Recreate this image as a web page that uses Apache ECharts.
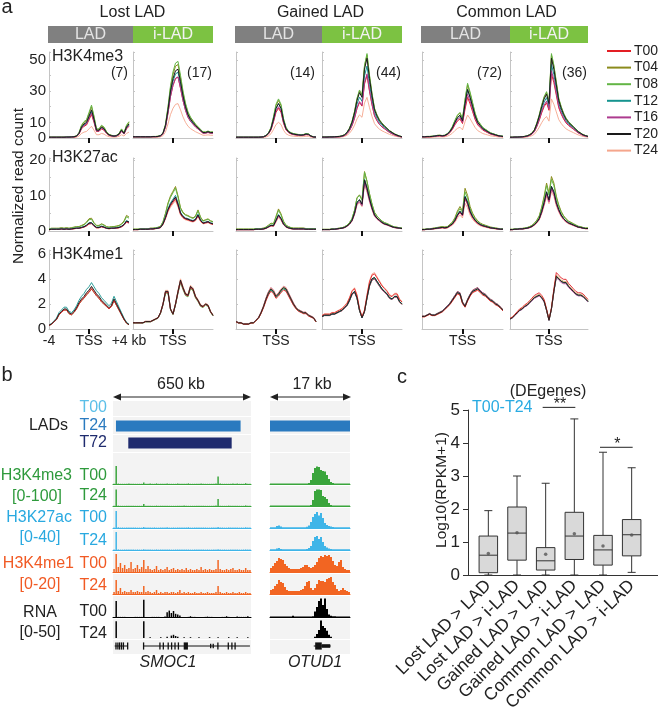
<!DOCTYPE html>
<html>
<head>
<meta charset="utf-8">
<title>LAD chromatin profiles</title>
<script src="https://cdn.jsdelivr.net/npm/echarts@6.0.0/dist/echarts.min.js"></script>
<style>
  html, body { margin: 0; padding: 0; background: #fff; }
  #main { width: 661px; height: 712px; }
</style>
</head>
<body>
<div id="main"></div>
<script>
const FONT = "'Liberation Sans', Arial, Helvetica, sans-serif";

// ===== panel a : read count profiles around the TSS =====
const timepoints = ['T00', 'T04', 'T08', 'T12', 'T16', 'T20', 'T24'];
const tpColors = ['#e31e24', '#8b8b1c', '#63b545', '#16948f', '#ad3b8f', '#1a1a1a', '#f5a68c'];
const groupNames = ['Lost LAD', 'Gained LAD', 'Common LAD'];
const markNames = ['H3K4me3', 'H3K27ac', 'H3K4me1'];
const geneCounts = ['(7)', '(17)', '(14)', '(44)', '(72)', '(36)'];
const kbBins = [-4, -3.75, -3.5, -3.25, -3, -2.75, -2.5, -2.25, -2, -1.75, -1.5, -1.25, -1, -0.75, -0.5, -0.25,
  0, 0.25, 0.5, 0.75, 1, 1.25, 1.5, 1.75, 2, 2.25, 2.5, 2.75, 3, 3.25, 3.5, 3.75, 4];
const yTickLabels = [[0, 10, 30, 50], [0, 10, 20], [0, 2, 4, 6]];

// T20 profile per column (Lost LAD, Lost i-LAD, Gained LAD, Gained i-LAD, Common LAD, Common i-LAD)
const k4me3Profiles = [
  [0.5,0.5,0.5,0.5,0.5,0.5,0.5,0.6,0.6,0.7,0.8,1.2,3,7,9,10,14,18,12,5,5,7,6,3.5,2,1.5,1.2,1.5,2.5,5,3,7,9],
  [0.8,0.8,0.8,0.8,0.8,0.8,0.8,0.8,0.9,0.9,1,1.5,3,8,18,30,38,43,44,36,27,20,15,12,10,8,6.5,5,3.5,3.5,4,3.5,3.5],
  [0.5,0.5,0.5,0.5,0.5,0.5,0.5,0.5,0.5,0.5,0.6,0.8,1.5,3,6,12,19,22,19,11,6,4,3,2.5,2.2,2,1.8,2,2.5,2.3,1.2,0.7,0.6],
  [0.6,0.6,0.6,0.7,0.7,0.8,0.9,1,1.3,2,3.5,6,10,16,24,29,26,44,51,38,27,18,14,11,9,7.5,6,4.5,3.5,2.5,1.8,1.2,0.8],
  [0.8,0.8,0.9,0.9,1,1.2,1.5,1.6,1.4,1.6,2.5,4,6.5,10,13,14.5,11,22,31,26,20,14,10,8,6,5,4,3,2.5,2,1.5,1.2,1],
  [0.5,0.5,0.6,0.6,0.7,0.8,1,1.3,2,3,5,9,14,20,25,28,22,51,44,34,24,19,15,12,10,8.5,7,5.5,4,3,2,1.5,1]
];
// peak height of T00..T24 in each column
const k4me3Peaks = [
  [15, 20, 21, 17, 16, 18, 7.5],
  [39, 47, 49, 42, 39, 44, 22],
  [19, 24, 25, 22, 20, 22, 10],
  [40, 53, 54, 46, 41, 51, 26],
  [26, 34, 35, 31, 28, 31, 14.7],
  [41, 53, 54, 47, 43, 51, 25]
];
const k27acProfiles = [
  [0.4,0.5,0.5,0.5,0.5,0.6,0.5,0.6,0.5,0.6,0.7,0.8,0.8,1,1.2,1.6,2.2,2.3,1.5,1,1,1.3,1.1,0.8,0.7,0.8,0.8,0.9,1,1.3,1.8,2.8,2.5],
  [0.4,0.4,0.4,0.5,0.5,0.5,0.5,0.6,0.6,0.7,0.8,1,2,3.8,6,7.5,8.5,9.5,7.5,5,4,3.5,3.3,3,2.8,3.2,4.5,3,2.2,2.4,2.6,2.2,2],
  [0.4,0.4,0.4,0.4,0.4,0.4,0.4,0.4,0.5,0.5,0.5,0.6,0.8,1.2,1.6,1.5,3,4.5,3.5,2,1.2,0.9,0.7,0.6,0.6,0.6,0.6,0.6,0.5,0.5,0.5,0.5,0.5],
  [0.4,0.4,0.4,0.4,0.5,0.5,0.6,0.7,0.8,1,1.4,2,3,5,8,8.7,7.5,14.3,12,9,6.5,4.5,3.6,3,2.4,2,1.8,1.5,1.2,1,0.9,0.8,0.7],
  [0.4,0.4,0.5,0.5,0.6,0.7,0.8,0.9,1,0.9,1,1.5,2,3,4.5,5.5,4.5,9.6,8,5.5,4,3,2.3,1.8,1.5,1.3,1.1,0.9,0.8,0.7,0.6,0.5,0.5],
  [0.4,0.4,0.5,0.5,0.6,0.6,0.7,0.8,1,1.3,1.8,2.5,3.5,5.5,8,11,8.7,12.5,11,8,6,4.5,3.5,2.8,2.3,2,1.7,1.4,1.1,1,0.8,0.7,0.7]
];
const k27acPeaks = [
  [2.1, 3.6, 3.3, 2.4, 2.2, 2.3, 2.0],
  [9, 12.5, 12, 10, 9.5, 9.5, 8.5],
  [4.3, 6.2, 5.8, 4.6, 4.2, 4.5, 3.8],
  [14.5, 16.7, 16.5, 14.5, 13.5, 14.3, 13],
  [9, 12, 11, 9.8, 9.2, 9.6, 7.8],
  [12, 15.3, 14.5, 12.5, 11.8, 12.5, 11]
];
const k4me1Profiles = [
  [0.3,0.4,0.6,0.8,1.2,1.4,1.6,1.6,1.3,1.2,1.4,1.7,2.1,2.4,2.6,2.9,3.1,3.4,3.1,2.8,2.6,2.3,2.1,1.9,1.7,1.9,2.4,2,1.6,1.2,0.8,0.5,0.35],
  [0.5,0.5,0.5,0.5,0.5,0.6,0.6,0.6,0.7,0.8,0.9,1.3,2,3,3,1.6,1.2,2,3,3.9,3.3,2.8,2.7,3.4,3.2,2.6,2.3,1.9,1.8,2,1.9,1.4,1.1],
  [0.6,0.5,0.5,0.4,0.4,0.4,0.5,0.5,0.7,0.9,1.3,1.8,2.4,2.9,3.2,3,2.6,2.8,3.1,3.3,3.2,2.8,2.4,2,1.7,1.5,1.4,1.3,1.3,1.1,1,0.9,0.6],
  [1,1.1,1.1,1.1,1.2,1.2,1.3,1.4,1.5,1.7,1.9,2.3,2.8,3,2.5,1.5,0.9,1.4,2.5,3.5,4,4.1,3.8,3.5,3.2,3,2.8,2.5,2.4,2.6,2.6,2.2,2],
  [1,1,1.1,1.2,1.1,1.1,1.2,1.3,1.4,1.6,1.8,2,2.3,2.6,2.9,2.8,2.1,1.8,2.3,2.7,3,3.1,3.2,3,2.8,2.7,2.5,2.3,2.2,2,1.9,1.7,1.5],
  [0.8,0.9,1.1,1.3,1.5,1.6,1.8,1.9,2.1,2.3,2.5,2.6,2.7,2.5,2.2,1.5,0.7,1.6,3,4.2,4,3.8,3.7,3.7,3.4,3.2,3,2.8,2.7,2.7,2.6,2.4,2.2]
];
const k4me1Peaks = [
  [3.2, 3.3, 3.2, 3.7, 3.3, 3.4, 3.3],
  [3.8, 3.9, 3.7, 3.8, 3.9, 3.9, 4.0],
  [3.1, 3.2, 3.3, 3.2, 3.4, 3.3, 3.4],
  [4.4, 4.0, 4.1, 4.1, 4.0, 4.1, 4.5],
  [3.1, 3.3, 3.2, 3.2, 3.3, 3.2, 3.1],
  [4.5, 4.2, 4.3, 4.2, 4.1, 4.2, 4.3]
];

// ===== panel b : browser tracks (left 650 kb in 10 kb bins, right 17 kb in 0.425 kb bins) =====
const k4me3T00Left = [1,90,2,1,1,1,1,2,1,1, 1,1,1,1,8,1,1,2,1,1, 3,1,1,1,1,2,1,1,1,1, 2,1,1,1,1,3,1,1,1,1, 1,2,1,1,1,1,1,1,2,37, 2,1,1,1,1,1,2,1,3,1, 1,1,4,1,1];
const k4me3T24Left = [1,82,2,1,1,1,1,1,1,1, 1,1,1,1,10,1,1,1,1,1, 2,1,1,1,1,1,1,1,1,1, 1,1,1,2,1,1,1,1,1,1, 1,1,1,1,1,1,1,1,2,35, 1,1,1,1,2,1,1,1,1,1, 1,1,3,1,1];
const k27acT00Left = [0.8,34,1.5,0.8,1,0.8,0.8,1.2,0.8,0.8, 1,0.8,0.8,0.8,2,0.8,1,0.8,0.8,1.2, 0.8,0.8,1,0.8,0.8,1.5,0.8,0.8,1,0.8, 0.8,1.2,0.8,0.8,1,1.5,0.8,0.8,1,0.8, 1.2,0.8,0.8,1,0.8,0.8,1,0.8,0.8,2, 0.8,1,0.8,0.8,1.2,0.8,0.8,1,0.8,0.8, 1,0.8,1.5,0.8,0.8];
const k27acT24Left = [0.8,36,1.2,0.8,0.8,1,0.8,0.8,1,0.8, 0.8,1,0.8,0.8,1.5,0.8,0.8,1,0.8,0.8, 1.2,0.8,0.8,1,0.8,0.8,1,0.8,0.8,1, 0.8,0.8,1.2,0.8,0.8,1,0.8,0.8,1,0.8, 0.8,1,0.8,0.8,1,0.8,0.8,1,0.8,1.5, 0.8,0.8,1,0.8,0.8,1,0.8,0.8,1,0.8, 0.8,1,1.2,0.8,0.8];
const k4me1T00Left = [3,18,5,9,4,7,3,4,10,3, 4,7,3,5,12,3,6,3,2,3, 6,2,3,2,3,5,2,3,4,2, 3,2,3,2,4,2,3,2,2,3, 2,5,2,3,2,3,2,2,3,12, 3,2,2,3,2,3,4,2,2,3, 2,2,4,2,2];
const k4me1T24Left = [2,14,3,6,2,3,2,2,4,2, 2,3,2,2,8,2,3,2,1,2, 4,1,2,1,2,2,1,2,2,1, 2,4,1,2,1,2,1,1,2,1, 1,2,1,1,2,1,1,1,2,8, 2,1,1,2,1,1,2,1,1,2, 1,1,2,1,1];
const rnaT00Left = [0.3,40,0.3,0.3,0.3,0.3,0.3,0.3,0.3,0.3, 0.3,0.3,0.3,0.3,43,0.3,0.3,0.3,0.3,0.3, 0.3,0.3,0.3,0.3,1,12,16,10,15,8, 6,4,0.3,0.3,0.3,0.3,2,0.3,0.3,0.3, 0.3,0.3,0.3,0.3,1,0.3,0.3,0.3,0.3,0.3, 0.3,0.3,0.3,2,0.3,0.3,0.3,0.3,1,0.3, 0.3,0.3,0.3,2,0.3];
const rnaT24Left = [0,42,0,0,0,0,0,0,0,0, 0,0,0,0,42,0,0,2,0,0, 0,0,2,0,0,3,0,6,8,5, 3,0,0,2,0,0,2,0,0,0, 2,0,0,0,0,2,0,0,0,2, 0,0,0,0,2,0,0,0,2,0, 0,0,0,2,0];
const k4me3T00Right = [2,2,2,2,2,2,2,2,2,2, 2,2,2,2,2,2,2,2,2,5, 20,55,80,88,85,70,65,62,45,25, 10,5,2,2,2,2,2,2,2,2];
const k4me3T24Right = [2,2,2,2,2,2,2,2,2,2, 2,2,2,2,2,2,2,2,2,2, 5,30,75,83,82,80,50,45,35,15, 5,2,2,2,2,2,2,2,2,2];
const k27acT00Right = [1.5,1.5,1.5,4,5,3,1.5,1.5,1.5,1.5, 1.5,1.5,1.5,1.5,1.5,1.5,1.5,1.5,2.5,5, 12,22,28,32,25,30,20,10,6,4, 3,2,1.5,1.5,1.5,1.5,1.5,1.5,1.5,1.5];
const k27acT24Right = [1.5,1.5,1.5,3,4,2,1.5,1.5,1.5,1.5, 1.5,1.5,1.5,1.5,1.5,1.5,1.5,1.5,2,4, 8,18,26,28,22,26,16,8,5,3, 2,1.5,1.5,1.5,1.5,1.5,1.5,1.5,1.5,1.5];
const k4me1T00Right = [4,6,9,11,14,13,12,8,6,4, 3,3,3,3,3,4,5,7,7,5, 4,5,7,10,14,16,15,17,16,17, 15,11,7,6,10,12,5,3,2,2];
const k4me1T24Right = [4,5,8,10,14,12,11,7,4,3, 3,3,3,3,3,4,5,8,12,13, 6,4,6,10,14,13,13,12,15,16, 17,12,9,5,3,4,6,4,3,2];
const rnaT00Right = [1,1,1,1,1,1,1,1,1,1, 1,3,1,1,1,1,1,1,1,1, 1,2,14,25,40,46,30,46,20,6, 3,2,2,1,1,1,1,1,1,1];
const rnaT24Right = [0,0,0,0,0,0,0,0,0,0, 0,0,0,0,0,0,0,0,0,0, 0,0,3,10,20,44,30,25,18,8, 3,0,0,0,0,0,0,0,0,0];

// LAD intervals (kb)
const ladT00Left = [], ladT24Left = [[14, 601]], ladT72Left = [[72, 559]];
const ladT00Right = [], ladT24Right = [[0, 17]], ladT72Right = [];
// gene models (kb): intron lines and exons [start, end, relative height]
const smocLines = [[8, 70], [143, 645]];
const smocExons = [[11,15,1],[20,24,1],[28,32,1],[37,41,1],[46,50,1],[66,71,1],[141,146,1],[218,223,1],[234,239,1],
  [257,262,1],[273,278,1],[289,294,1],[305,310,1],[333,353,1],[457,463,0.6],[469,475,0.6],[491,496,1],[540,545,1],[557,561,1],[572,577,1]];
const otudLines = [[9.3, 12.9]];
const otudExons = [[9.6, 11.0, 1], [11.0, 12.8, 0.5]];

// ===== panel c : expression box plots =====
const boxCategories = ['Lost LAD > LAD', 'Lost LAD > i-LAD', 'Gained LAD > LAD', 'Gained LAD > i-LAD', 'Common LAD > LAD', 'Common LAD > i-LAD'];
const boxMin = [0, 0, 0, 0, 0, 0.08];
const boxQ1 = [0.07, 0.45, 0.15, 0.47, 0.3, 0.58];
const boxMedian = [0.6, 1.27, 0.43, 1.18, 0.76, 1.22];
const boxQ3 = [1.18, 2.06, 0.83, 1.9, 1.2, 1.68];
const boxMax = [1.95, 3.0, 2.78, 4.73, 3.72, 3.25];
const boxMean = [0.65, 1.28, 0.63, 1.25, 0.88, 1.21];
const sigFrom = [2, 4], sigTo = [3, 5], sigY = [5.08, 3.87], sigText = ['**', '*'];

// ---------- helpers ----------
const grids = [], xAxes = [], yAxes = [], series = [], graphics = [];
function addGrid(left, top, width, height, xa, ya) {
  const i = grids.length;
  grids.push({ left, top, width, height, containLabel: false, outerBoundsMode: 'none' });
  xAxes.push(Object.assign({ gridIndex: i }, xa));
  yAxes.push(Object.assign({ gridIndex: i }, ya));
  return i;
}
function txt(text, x, y, o) {
  o = o || {};
  graphics.push({
    type: 'text', x, y, rotation: o.rot || 0, z: 100, silent: true,
    style: { text, fontSize: o.size || 14, fontFamily: FONT, fontStyle: o.italic ? 'italic' : 'normal',
      fill: o.color || '#222', align: o.align || 'center', verticalAlign: 'middle' }
  });
}
function box(x, y, w, h, fill) {
  graphics.push({ type: 'rect', z: -5, silent: true, shape: { x, y, width: w, height: h }, style: { fill } });
}
function seg(x1, y1, x2, y2, stroke, w) {
  graphics.push({ type: 'line', z: 50, silent: true, shape: { x1, y1, x2, y2 }, style: { stroke, lineWidth: w || 1 } });
}
function tri(points, fill) {
  graphics.push({ type: 'polygon', z: 50, silent: true, shape: { points }, style: { fill } });
}

// ---------- panel a ----------
const colLeft = [49, 133, 236, 322, 422, 510];
const colWidth = [80, 80, 80, 80, 81, 78];
const rowTop = [52, 158, 250], rowHeight = [86, 73, 79], rowMax = [55, 20.5, 6.3], rowStep = [10, 5, 2];
const rowsA = [
  { profiles: k4me3Profiles, peaks: k4me3Peaks, order: [6, 0, 1, 2, 3, 4, 5], lw: 1 },
  { profiles: k27acProfiles, peaks: k27acPeaks, order: [6, 0, 1, 2, 3, 4, 5], lw: 1 },
  { profiles: k4me1Profiles, peaks: k4me1Peaks, order: [1, 2, 4, 3, 6, 0, 5], lw: 0.9 }
];

rowsA.forEach((row, r) => {
  row.profiles.forEach((prof, c) => {
    const gi = addGrid(colLeft[c], rowTop[r], colWidth[c], rowHeight[r], {
      type: 'value', min: -4, max: 4,
      axisLine: { show: true, onZero: false, lineStyle: { color: '#c4c4c4', width: 1 } },
      axisTick: { show: true, customValues: [0], length: 5, lineStyle: { color: '#111', width: 2 } },
      axisLabel: { show: r === 2, customValues: c === 0 ? [-4, 0, 4] : [0], fontSize: 14, color: '#222', margin: 5,
        formatter: v => (v === 0 ? 'TSS' : (v < 0 ? '-4' : '+4 kb')) },
      splitLine: { show: false }
    }, {
      type: 'value', min: 0, max: rowMax[r], interval: rowStep[r],
      axisLine: { show: true, onZero: false, lineStyle: { color: '#c4c4c4', width: 1 } },
      axisTick: { show: true, inside: true, length: 2, lineStyle: { color: '#c4c4c4' } },
      axisLabel: { show: c === 0, fontSize: 15, color: '#222', margin: 3,
        formatter: v => (yTickLabels[r].indexOf(v) >= 0 ? String(v) : '') },
      splitLine: { show: false }
    });
    row.order.forEach(s => {
      const scale = row.peaks[c][s] / row.peaks[c][5];
      series.push({
        type: 'line', name: timepoints[s], xAxisIndex: gi, yAxisIndex: gi,
        data: prof.map((v, i) => [kbBins[i], +(v * scale).toFixed(2)]),
        symbol: 'none', showSymbol: false, silent: true, animation: false,
        lineStyle: { color: tpColors[s], width: s === 6 ? 0.9 : row.lw }, itemStyle: { color: tpColors[s] }
      });
    });
  });
});

txt('a', 7, 7, { size: 20 });
groupNames.forEach((g, k) => {
  const l0 = colLeft[2 * k] - 1, l1 = colLeft[2 * k + 1], r1 = colLeft[2 * k + 1] + colWidth[2 * k + 1];
  box(l0, 26, l1 - l0, 17, '#808080');
  box(l1, 26, r1 - l1, 17, '#7cc242');
  txt('LAD', (l0 + l1) / 2, 35, { size: 16, color: '#e4e4e4' });
  txt('i-LAD', (l1 + r1) / 2, 35, { size: 16, color: '#f2f2f2' });
  txt(g, (l0 + r1) / 2 + 2, 13, { size: 16 });
});
geneCounts.forEach((t, c) => txt(t, colLeft[c] + colWidth[c] - 1, 73, { size: 14, align: 'right' }));
[57, 158, 255].forEach((y, r) => txt(markNames[r], 52, y, { size: 16, align: 'left' }));
txt('Normalized read count', 19, 186, { size: 15.5, rot: Math.PI / 2 });

// ---------- panel b ----------
const trackBaseY = [484, 506, 528, 550, 572, 594, 617, 638];
const tracks = [
  { left: k4me3T00Left, right: k4me3T00Right, max: 100, color: '#3aa53c', axis: true },
  { left: k4me3T24Left, right: k4me3T24Right, max: 100, color: '#3aa53c', axis: true },
  { left: k27acT00Left, right: k27acT00Right, max: 40, color: '#3fb5e8', axis: true },
  { left: k27acT24Left, right: k27acT24Right, max: 40, color: '#3fb5e8', axis: true },
  { left: k4me1T00Left, right: k4me1T00Right, max: 20, color: '#f26522', axis: true },
  { left: k4me1T24Left, right: k4me1T24Right, max: 20, color: '#f26522', axis: true },
  { left: rnaT00Left, right: rnaT00Right, max: 50, color: '#000', axis: true },
  { left: rnaT24Left, right: rnaT24Right, max: 50, color: '#000', axis: false }
];
const regions = [{ x: 113, w: 138, kb: 650, bar: '70%' }, { x: 270, w: 80, kb: 17, bar: '100%' }];

regions.forEach(rg => {
  box(rg.x, 401, rg.w, 253, '#f3f3f3');
  [416.5, 434.5, 452.5].concat(trackBaseY.map(y => y + 1.5)).forEach(y => seg(rg.x, y, rg.x + rg.w, y, '#ffffff', 1));
});

tracks.forEach((t, k) => {
  [t.left, t.right].forEach((vals, side) => {
    const rg = regions[side];
    const gi = addGrid(rg.x, trackBaseY[k] - 20, rg.w, 20, {
      type: 'category', data: vals.map((_, i) => String(i)), boundaryGap: true,
      axisLine: { show: t.axis, lineStyle: { color: t.color, width: 1 } },
      axisTick: { show: false }, axisLabel: { show: false }, splitLine: { show: false }
    }, { type: 'value', min: 0, max: t.max, show: false });
    series.push({
      type: 'bar', xAxisIndex: gi, yAxisIndex: gi, data: vals, barWidth: rg.bar,
      itemStyle: { color: t.color }, silent: true, animation: false
    });
  });
});

function intervalItem(params, api) {
  const a = api.coord([api.value(0), 0.85]);
  const b = api.coord([api.value(1), 0.15]);
  return { type: 'rect', shape: { x: a[0], y: a[1], width: b[0] - a[0], height: b[1] - a[1] }, style: { fill: api.visual('color') } };
}
function geneLineItem(params, api) {
  const a = api.coord([api.value(0), 0.5]);
  const b = api.coord([api.value(1), 0.5]);
  return { type: 'line', shape: { x1: a[0], y1: a[1], x2: b[0], y2: b[1] }, style: { stroke: '#111', lineWidth: 1 } };
}
function exonItem(params, api) {
  const h = api.value(2) * 0.3;
  const a = api.coord([api.value(0), 0.5 + h]);
  const b = api.coord([api.value(1), 0.5 - h]);
  return { type: 'rect', shape: { x: a[0], y: a[1], width: Math.max(1.3, b[0] - a[0]), height: b[1] - a[1] }, style: { fill: '#111' } };
}
function plainGrid(rg, top, height) {
  return addGrid(rg.x, top, rg.w, height,
    { type: 'value', min: 0, max: rg.kb, show: false },
    { type: 'value', min: 0, max: 1, show: false });
}
const ladRows = [
  { top: 400, data: [ladT00Left, ladT00Right], color: '#5bbfe8' },
  { top: 418, data: [ladT24Left, ladT24Right], color: '#2a7abf' },
  { top: 435, data: [ladT72Left, ladT72Right], color: '#1f2b6e' }
];
ladRows.forEach(row => {
  regions.forEach((rg, side) => {
    const gi = plainGrid(rg, row.top, 16);
    series.push({ type: 'custom', xAxisIndex: gi, yAxisIndex: gi, data: row.data[side], renderItem: intervalItem,
      itemStyle: { color: row.color }, silent: true, animation: false });
  });
});
[[smocLines, smocExons], [otudLines, otudExons]].forEach((g, side) => {
  const gi = plainGrid(regions[side], 640, 12);
  series.push({ type: 'custom', xAxisIndex: gi, yAxisIndex: gi, data: g[0], renderItem: geneLineItem, silent: true, animation: false, z: 3 });
  series.push({ type: 'custom', xAxisIndex: gi, yAxisIndex: gi, data: g[1], renderItem: exonItem, silent: true, animation: false, z: 4 });
});

function arrow(x1, x2, y) {
  seg(x1 + 3, y, x2 - 3, y, '#222', 1.2);
  tri([[x1, y], [x1 + 8, y - 3.5], [x1 + 8, y + 3.5]], '#222');
  tri([[x2, y], [x2 - 8, y - 3.5], [x2 - 8, y + 3.5]], '#222');
}
arrow(113, 251, 397);
arrow(270, 351, 397);
txt('650 kb', 181, 385, { size: 16 });
txt('17 kb', 312, 385, { size: 16 });
txt('b', 7, 375, { size: 20 });

const cGreen = '#2e9a3c', cBlue = '#29a9e0', cOrange = '#f15a24';
txt('T00', 107, 408, { size: 16, align: 'right', color: '#5bbfe8' });
txt('LADs', 68, 426, { size: 16, align: 'right' });
txt('T24', 107, 426, { size: 16, align: 'right', color: '#2a7abf' });
txt('T72', 107, 443, { size: 16, align: 'right', color: '#1f2b6e' });
txt('H3K4me3', 72, 476, { size: 16, align: 'right', color: cGreen });
txt('T00', 107, 476, { size: 16, align: 'right', color: cGreen });
txt('[0-100]', 37, 497, { size: 16, color: cGreen });
txt('T24', 107, 496, { size: 16, align: 'right', color: cGreen });
txt('H3K27ac', 72, 518, { size: 16, align: 'right', color: cBlue });
txt('T00', 107, 518, { size: 16, align: 'right', color: cBlue });
txt('[0-40]', 40, 538, { size: 16, color: cBlue });
txt('T24', 107, 541, { size: 16, align: 'right', color: cBlue });
txt('H3K4me1', 74, 564, { size: 16, align: 'right', color: cOrange });
txt('T00', 107, 564, { size: 16, align: 'right', color: cOrange });
txt('[0-20]', 40, 585, { size: 16, color: cOrange });
txt('T24', 107, 586, { size: 16, align: 'right', color: cOrange });
txt('RNA', 40, 613, { size: 16 });
txt('T00', 107, 612, { size: 16, align: 'right' });
txt('[0-50]', 40, 633, { size: 16 });
txt('T24', 107, 634, { size: 16, align: 'right' });
txt('SMOC1', 168, 663, { size: 16, italic: true });
txt('OTUD1', 315, 663, { size: 16, italic: true });

// ---------- panel c ----------
const gc = addGrid(474, 410, 172, 165, {
  type: 'category', data: boxCategories, boundaryGap: true,
  axisLine: { show: false }, axisTick: { show: false },
  axisLabel: { rotate: 45, interval: 0, fontSize: 17.5, color: '#222', margin: 8 }
}, {
  type: 'value', min: 0, max: 5, interval: 1, offset: 6,
  axisLine: { show: true, onZero: false, lineStyle: { color: '#333', width: 1 } },
  axisTick: { show: true, length: 5, lineStyle: { color: '#333' } },
  axisLabel: { fontSize: 17, color: '#222', margin: 8 },
  splitLine: { show: false }
});
function boxItem(params, api) {
  const i = api.value(0);
  const x = api.coord([i, 0])[0];
  const y = k => api.coord([i, api.value(k)])[1];
  const yMin = y(1), yQ1 = y(2), yMed = y(3), yQ3 = y(4), yMax = y(5);
  const w = 18.5, cap = 8, st = { stroke: '#333', lineWidth: 1 };
  return { type: 'group', children: [
    { type: 'line', shape: { x1: x, y1: yMax, x2: x, y2: yQ3 }, style: st },
    { type: 'line', shape: { x1: x, y1: yQ1, x2: x, y2: yMin }, style: st },
    { type: 'line', shape: { x1: x - cap / 2, y1: yMax, x2: x + cap / 2, y2: yMax }, style: st },
    { type: 'line', shape: { x1: x - cap / 2, y1: yMin, x2: x + cap / 2, y2: yMin }, style: st },
    { type: 'rect', shape: { x: x - w / 2, y: yQ3, width: w, height: yQ1 - yQ3 }, style: { fill: '#d9d9d9', stroke: '#333', lineWidth: 1 } },
    { type: 'line', shape: { x1: x - w / 2, y1: yMed, x2: x + w / 2, y2: yMed }, style: st }
  ] };
}
series.push({
  type: 'custom', xAxisIndex: gc, yAxisIndex: gc, renderItem: boxItem, silent: true, animation: false,
  encode: { x: 0, y: [1, 2, 3, 4, 5] },
  data: boxCategories.map((_, i) => [i, boxMin[i], boxQ1[i], boxMedian[i], boxQ3[i], boxMax[i]])
});
series.push({
  type: 'scatter', xAxisIndex: gc, yAxisIndex: gc, symbolSize: 3.5, silent: true, animation: false,
  itemStyle: { color: '#555' }, z: 5,
  data: boxMean.map((m, i) => [i, m])
});
function sigItem(params, api) {
  const a = api.coord([api.value(0), api.value(2)]);
  const b = api.coord([api.value(1), api.value(2)]);
  return { type: 'group', children: [
    { type: 'line', shape: { x1: a[0] - 3, y1: a[1], x2: b[0] + 1, y2: b[1] }, style: { stroke: '#222', lineWidth: 1 } },
    { type: 'text', x: (a[0] + b[0]) / 2, y: a[1] - 3, style: { text: sigText[params.dataIndex], fontSize: 16, fontFamily: FONT,
      fill: '#222', align: 'center', verticalAlign: 'middle' } }
  ] };
}
series.push({
  type: 'custom', xAxisIndex: gc, yAxisIndex: gc, renderItem: sigItem, silent: true, animation: false, clip: false,
  data: sigFrom.map((f, i) => [f, sigTo[i], sigY[i]])
});
seg(468, 575.5, 658, 575.5, '#333', 1);
txt('c', 402, 377, { size: 20 });
txt('(DEgenes)', 548, 392, { size: 16 });
txt('T00-T24', 472, 408, { size: 16, align: 'left', color: '#29abe2' });
txt('Log10(RPKM+1)', 442, 490, { size: 15.5, rot: Math.PI / 2 });

// ---------- chart ----------
const chart = echarts.init(document.getElementById('main'), null, { renderer: 'canvas', width: 661, height: 712 });
chart.setOption({
  animation: false,
  backgroundColor: '#ffffff',
  textStyle: { fontFamily: FONT },
  legend: {
    data: timepoints, orient: 'vertical', left: 607, top: 44, padding: 0, selectedMode: false,
    icon: 'rect', itemWidth: 24, itemHeight: 2, itemGap: 2.6,
    textStyle: { fontSize: 14, color: '#222', lineHeight: 14, fontFamily: FONT, padding: [0, 0, 0, -2] }
  },
  grid: grids,
  xAxis: xAxes,
  yAxis: yAxes,
  series: series,
  graphic: graphics
});
</script>
</body>
</html>
